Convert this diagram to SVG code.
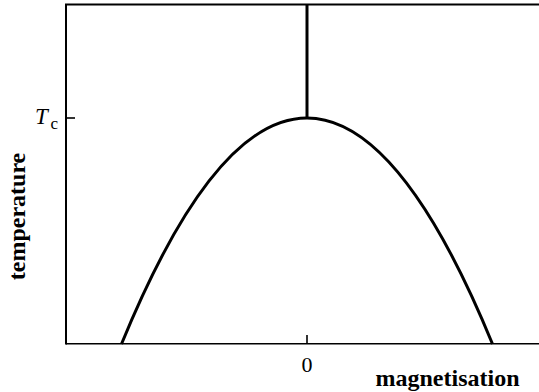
<svg xmlns="http://www.w3.org/2000/svg" width="539" height="392" viewBox="0 0 539 392">
<style>
.ax{stroke:#000;stroke-width:2;fill:none}
.thin{stroke:#000;stroke-width:1.6;fill:none}
.thick{stroke:#000;stroke-width:3;fill:none}
.t{font-family:"Liberation Serif","Times New Roman",serif;fill:#000}
.b{font-weight:bold;font-size:24px}
</style>
<rect width="539" height="392" fill="#fff"/>
<g id="axes">
<path class="ax" d="M66,344.5 V4.5 H539"/>
<path class="thin" d="M66,343.7 H539"/>
<path class="thin" d="M67,118 H75"/>
<path class="thin" d="M307,335 V343.7"/>
</g>
<g id="connectors">
<path class="thick" d="M307,4.5 V118"/>
<path class="thick" d="M121.5,344 Q307,-108 492.5,344"/>
</g>
<g id="labels">
<text class="t" x="35" y="124" font-size="23" font-style="italic">T</text>
<text class="t" x="50.5" y="128.5" font-size="17">c</text>
<text class="t" x="307" y="372" font-size="22" text-anchor="middle">0</text>
<text class="t b" x="447.5" y="386" text-anchor="middle">magnetisation</text>
<text class="t b" transform="translate(25,216.5) rotate(-90)" text-anchor="middle">temperature</text>
</g>
</svg>
